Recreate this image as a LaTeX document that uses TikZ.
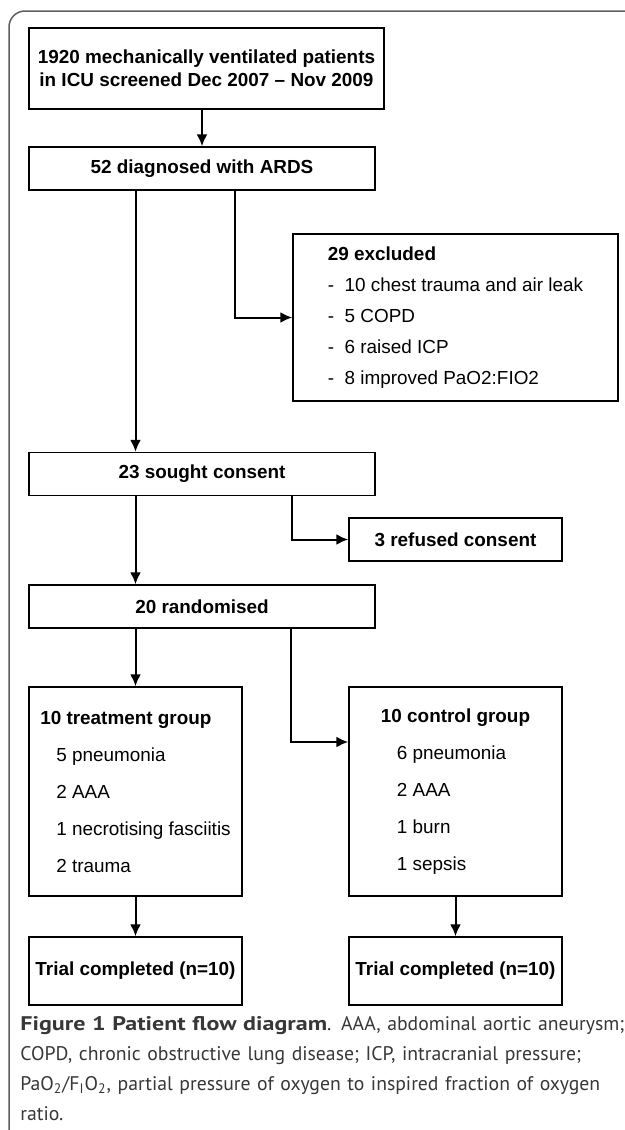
\documentclass[tikz,border=0pt]{standalone}
\usepackage{fontspec}
\setmainfont{Liberation Sans}
\newfontfamily\capfont{PT Sans}[BoldFeatures={FakeStretch=1.22}]
\usetikzlibrary{shapes,arrows,arrows.meta}
\definecolor{capgray}{RGB}{55,55,55}
\definecolor{framegray}{RGB}{95,95,95}
\tikzstyle{block} = [rectangle, draw, line width=0.75pt, inner sep=0pt,
    font=\fontsize{9.45}{11.5}\selectfont\bfseries, text centered,
    minimum width=173pt, minimum height=21.5pt]
\tikzstyle{list} = [rectangle, draw, line width=0.75pt, align=left,
    font=\fontsize{9.45}{15.5}\selectfont, minimum width=162.5pt, minimum height=83.5pt]
\tikzstyle{group} = [rectangle, draw, line width=0.75pt, align=left,
    font=\fontsize{9.45}{18.5}\selectfont, minimum width=106.5pt, minimum height=104.5pt]
\tikzstyle{line} = [draw, line width=1pt, -{Latex[length=6pt,width=5.5pt]}]

\begin{document}
\begin{tikzpicture}[node distance = 50pt, auto]
        \useasboundingbox (0,0) rectangle (312.5pt,-565pt);
        \draw [framegray, line width=0.75pt, rounded corners=8pt] (4.5pt,-565pt) -- (4.5pt,-5.5pt) -- (312.5pt,-5.5pt);

        % Place nodes
        \node [block, align=center, minimum width=177.5pt, minimum height=40.5pt] (screen) at (103.25pt,-34.25pt)
            {1920 mechanically ventilated patients\\in ICU screened Dec 2007 -- Nov 2009};
        \node [block, below of=screen, xshift=-2.25pt] (ards) {52 diagnosed with ARDS};
        \node [list, below of=ards, node distance=74.5pt, xshift=126.75pt] (excl)
            {\textbf{29 excluded}\\-\ \ 10 chest trauma and air leak\\-\ \ 5 COPD\\-\ \ 6 raised ICP\\-\ \ 8 improved PaO2:FIO2};
        \node [block, below of=ards, node distance=152.75pt] (consent) {23 sought consent};
        \node [block, minimum width=106.5pt, below of=consent, node distance=32.75pt, xshift=126.75pt] (refused) {3 refused consent};
        \node [block, below of=consent, node distance=66.25pt] (random) {20 randomised};
        \node [group, below of=random, node distance=92.5pt, xshift=-33.25pt] (treat)
            {\textbf{10 treatment group}\\\hspace*{8pt}5 pneumonia\\\hspace*{8pt}2 AAA\\\hspace*{8pt}1 necrotising fasciitis\\\hspace*{8pt}2 trauma};
        \node [group, right of=treat, node distance=160pt] (control)
            {\textbf{10 control group}\\\hspace*{8pt}6 pneumonia\\\hspace*{8pt}2 AAA\\\hspace*{8pt}1 burn\\\hspace*{8pt}1 sepsis};
        \node [block, minimum width=106.5pt, minimum height=34pt, below of=treat, node distance=89.75pt] (doneT) {Trial completed (n=10)};
        \node [block, minimum width=106.5pt, minimum height=34pt, right of=doneT, node distance=160pt] (doneC) {Trial completed (n=10)};
        \node [anchor=north west, inner sep=0pt, text width=310pt, align=left, text=capgray,
            font=\capfont\fontsize{9.85}{15}\selectfont] (caption) at (10pt,-508pt)
            {\textbf{Figure 1 Patient flow diagram}. AAA, abdominal aortic aneurysm;\\
            COPD, chronic obstructive lung disease; ICP, intracranial pressure;\\
            PaO\textsubscript{2}/F\textsubscript{I}O\textsubscript{2}, partial pressure of oxygen to inspired fraction of oxygen\\
            ratio.};

        % Draw edges
        \path [line] (screen.south -| ards.north) -- (ards.north);
        \path [line] (ards.south -| treat.north) -- (consent.north -| treat.north);
        \path [line] ([xshift=16.5pt]ards.south) |- (excl.west);
        \path [line] (consent.south -| treat.north) -- (random.north -| treat.north);
        \path [line] ([xshift=45pt]consent.south) |- (refused.west);
        \path [line] (random.south -| treat.north) -- (treat.north);
        \path [line] ([xshift=44.5pt]random.south) |- ([yshift=24.75pt]control.west);
        \path [line] (treat) -- (doneT);
        \path [line] (control) -- (doneC);
\end{tikzpicture}
\end{document}
